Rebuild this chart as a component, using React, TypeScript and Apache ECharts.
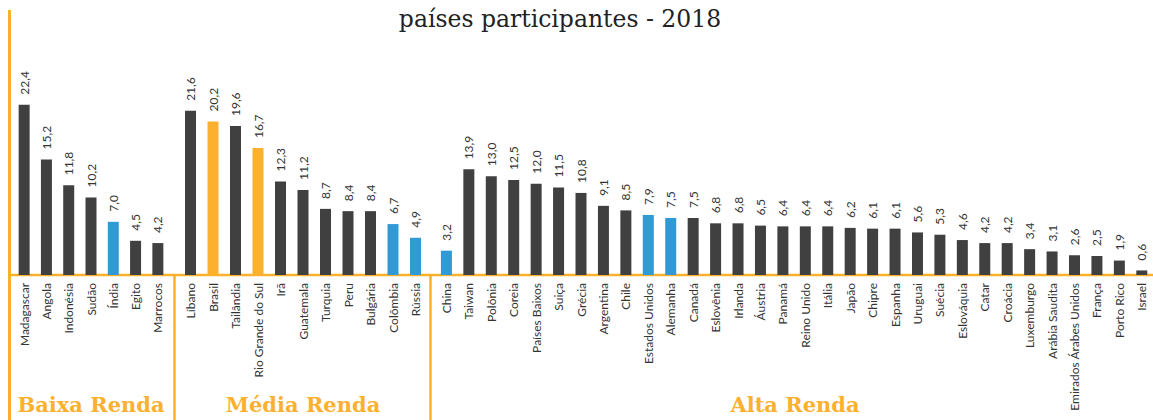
import React, { useEffect, useRef } from "react";
import * as echarts from "echarts";

const lowCountries = ["Madagascar", "Angola", "Indonésia", "Sudão", "Índia", "Egito", "Marrocos"];
const lowValues = [22.4, 15.2, 11.8, 10.2, 7.0, 4.5, 4.2];

const midCountries = ["Líbano", "Brasil", "Tailândia", "Rio Grande do Sul", "Irã", "Guatemala", "Turquia", "Peru", "Bulgária", "Colômbia", "Rússia"];
const midValues = [21.6, 20.2, 19.6, 16.7, 12.3, 11.2, 8.7, 8.4, 8.4, 6.7, 4.9];

const highCountries = ["China", "Taiwan", "Polônia", "Coreia", "Países Baixos", "Suiça", "Grécia", "Argentina", "Chile", "Estados Unidos", "Alemanha", "Canadá", "Eslovênia", "Irlanda", "Áustria", "Panamá", "Reino Unido", "Itália", "Japão", "Chipre", "Espanha", "Uruguai", "Suécia", "Eslováquia", "Catar", "Croácia", "Luxemburgo", "Arábia Saudita", "Emirados Árabes Unidos", "França", "Porto Rico", "Israel"];
const highValues = [3.2, 13.9, 13.0, 12.5, 12.0, 11.5, 10.8, 9.1, 8.5, 7.9, 7.5, 7.5, 6.8, 6.8, 6.5, 6.4, 6.4, 6.4, 6.2, 6.1, 6.1, 5.6, 5.3, 4.6, 4.2, 4.2, 3.4, 3.1, 2.6, 2.5, 1.9, 0.6];

const groupNames = ["Baixa Renda", "Média Renda", "Alta Renda"];
const brazilEntries = ["Brasil", "Rio Grande do Sul"];
const blueEntries = ["Índia", "Colômbia", "Rússia", "China", "Estados Unidos", "Alemanha"];
const titleText = "países participantes - 2018";

const ORANGE = "#FBB12E";
const BLUE = "#3199D3";
const DARK = "#404040";
const LABEL_FONT = "Lato";

export default function App() {
  const ref = useRef<HTMLDivElement>(null);
  useEffect(() => {
    if (!ref.current) return;
    const chart = echarts.init(ref.current, null, { renderer: "svg" });
    const groups = [
      { names: lowCountries, values: lowValues, left: 13, width: 156 },
      { names: midCountries, values: midValues, left: 179.25, width: 247.5 },
      { names: highCountries, values: highValues, left: 435.2, width: 721 },
    ];
    const colorFor = (n: string) =>
      brazilEntries.includes(n) ? ORANGE : blueEntries.includes(n) ? BLUE : DARK;
    const fmt = (v: number) => v.toFixed(1).replace(".", ",");
    const option: any = {
      animation: false,
      grid: groups.map((g) => ({ left: g.left, width: g.width, top: 47, height: 228 })),
      xAxis: groups.map((g, i) => ({
        type: "category",
        gridIndex: i,
        data: g.names,
        axisLine: { show: false },
        axisTick: { show: false },
        axisLabel: {
          interval: 0,
          rotate: 90,
          margin: 8,
          fontFamily: LABEL_FONT,
          fontSize: 12,
          color: "#333333",
        },
      })),
      yAxis: groups.map((g, i) => ({
        type: "value",
        gridIndex: i,
        min: 0,
        max: 30,
        show: false,
        splitLine: { show: false },
      })),
      series: groups.map((g, i) => ({
        type: "bar",
        xAxisIndex: i,
        yAxisIndex: i,
        barWidth: 11,
        data: g.values.map((v, k) => ({ value: v, itemStyle: { color: colorFor(g.names[k]) } })),
        label: {
          show: true,
          position: "top",
          rotate: 90,
          align: "left",
          verticalAlign: "middle",
          distance: 10,
          fontFamily: LABEL_FONT,
          fontSize: 12,
          color: "#333333",
          formatter: (p: any) => fmt(p.value),
        },
      })),
      graphic: [
        {
          type: "text",
          x: 560,
          y: 19,
          style: {
            text: titleText,
            fontFamily: "DejaVu Serif",
            fontSize: 23.5,
            fill: "#222222",
            textAlign: "center",
            textVerticalAlign: "middle",
          },
        },
        { type: "line", shape: { x1: 9.5, y1: 10, x2: 9.5, y2: 420 }, style: { stroke: ORANGE, lineWidth: 3 } },
        { type: "line", shape: { x1: 9, y1: 275, x2: 1153, y2: 275 }, style: { stroke: ORANGE, lineWidth: 2.5 } },
        { type: "line", shape: { x1: 174.5, y1: 275, x2: 174.5, y2: 420 }, style: { stroke: ORANGE, lineWidth: 2.5 } },
        { type: "line", shape: { x1: 430.5, y1: 275, x2: 430.5, y2: 420 }, style: { stroke: ORANGE, lineWidth: 2.5 } },
        ...groupNames.map((name, i) => ({
          type: "text",
          x: [91, 303, 795][i],
          y: 404,
          style: {
            text: name,
            fontFamily: "DejaVu Serif",
            fontWeight: "bold",
            fontSize: 21,
            fill: ORANGE,
            textAlign: "center",
            textVerticalAlign: "middle",
          },
        })),
      ],
    };
    chart.setOption(option);
    return () => chart.dispose();
  }, []);
  return (
    <div
      ref={ref}
      style={{ position: "fixed", left: 0, top: 0, width: 1153, height: 420, background: "#ffffff" }}
    />
  );
}
